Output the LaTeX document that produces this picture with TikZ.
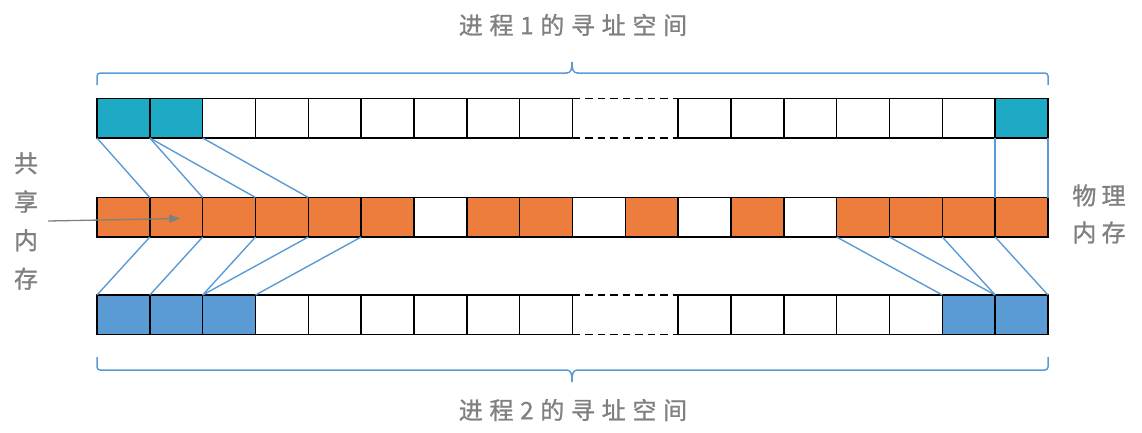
\documentclass[tikz,border=0pt]{standalone}
\usepackage{fontspec}
\newfontfamily\cjk[FakeBold=1]{Noto Sans CJK SC}
\newfontfamily\cjkls[LetterSpace=22,FakeBold=1]{Noto Sans CJK SC}
\newfontfamily\cjkwide[LetterSpace=28,FakeBold=1]{Noto Sans CJK SC}
\usetikzlibrary{arrows.meta,calc}
\definecolor{tealc}{HTML}{1EAAC5}
\definecolor{orangec}{HTML}{ED7D3D}
\definecolor{bluec}{HTML}{5B9BD5}
\definecolor{linec}{HTML}{5B9BD5}
\definecolor{grayc}{HTML}{808080}
\begin{document}
\begin{tikzpicture}[x=1pt,y=-1pt,
  cell/.style={draw=black, line width=1.6pt, minimum width=52.833pt, minimum height=39.5pt, inner sep=0pt, outer sep=0pt, anchor=north west},
  link/.style={draw=linec, line width=1.4pt},
  bracec/.style={draw=linec, line width=1.5pt, rounded corners=3pt},
  gapline/.style={draw=black, line width=1.6pt, dash pattern=on 7.5pt off 5pt},
  lbl/.style={text=grayc, inner sep=0pt}
]
\useasboundingbox (0,0) rectangle (1142,432);
\def\w{52.833}
% top row
\foreach \i/\c in {0/tealc,1/tealc,2/white,3/white,4/white,5/white,6/white,7/white,8/white,
                   11/white,12/white,13/white,14/white,15/white,16/white,17/tealc}
  \node[cell, fill=\c] (t\i) at ({97+\i*\w},98.5) {};
% middle row
\foreach \i/\c in {0/orangec,1/orangec,2/orangec,3/orangec,4/orangec,5/orangec,6/white,7/orangec,8/orangec,
                   9/white,10/orangec,11/white,12/orangec,13/white,14/orangec,15/orangec,16/orangec,17/orangec}
  \node[cell, fill=\c] (m\i) at ({97+\i*\w},197.5) {};
% bottom row
\foreach \i/\c in {0/bluec,1/bluec,2/bluec,3/white,4/white,5/white,6/white,7/white,8/white,
                   11/white,12/white,13/white,14/white,15/white,16/bluec,17/bluec}
  \node[cell, fill=\c] (b\i) at ({97+\i*\w},295) {};
% dashed gaps
\draw[gapline] (t8.north east) -- (t11.north west);
\draw[gapline] (t8.south east) -- (t11.south west);
\draw[gapline] (b8.north east) -- (b11.north west);
\draw[gapline] (b8.south east) -- (b11.south west);
% top to middle links
\draw[link] (t0.south west) -- (m1.north west);
\draw[link] (t0.south east) -- (m1.north east);
\draw[link] (t1.south west) -- (m3.north west);
\draw[link] (t1.south east) -- (m3.north east);
\draw[link] (t17.south west) -- (m17.north west);
\draw[link] (t17.south east) -- (m17.north east);
% middle to bottom links
\draw[link] (m1.south west) -- (b0.north west);
\draw[link] (m1.south east) -- (b0.north east);
\draw[link] (m2.south east) -- (b1.north east);
\draw[link] (m4.south west) -- (b2.north west);
\draw[link] (m4.south east) -- (b2.north east);
\draw[link] (m14.south west) -- (b16.north west);
\draw[link] (m14.south east) -- (b16.north east);
\draw[link] (m16.south west) -- (b17.north west);
\draw[link] (m16.south east) -- (b17.north east);
% braces
\draw[bracec] (97,85) -- (97,73) -- (567,73);
\draw[bracec] (1048,85) -- (1048,73) -- (577,73);
\draw[linec, line width=1.5pt] (566,73) .. controls (571,73) and (572,70) .. (572,62)
      .. controls (572,70) and (573,73) .. (578,73);
\draw[bracec] (97,357) -- (97,370) -- (567,370);
\draw[bracec] (1048,357) -- (1048,370) -- (577,370);
\draw[linec, line width=1.5pt] (566,370) .. controls (571,370) and (572,373) .. (572,382)
      .. controls (572,373) and (573,370) .. (578,370);
% labels
\node[lbl, font=\cjkwide\fontsize{24}{28}\selectfont] (p1) at (573,25) {进程1的寻址空间};
\node[lbl, font=\cjkwide\fontsize{24}{28}\selectfont] (p2) at (573,410) {进程2的寻址空间};
\node[lbl, align=center, font=\cjk\fontsize{24}{38.5}\selectfont] (share) at (26,221) {共\\享\\内\\存};
\node[lbl, align=center, font=\cjkls\fontsize{24}{37}\selectfont] (phys) at (1099,214) {物理\\内存};
% arrow
\coordinate (arrs) at (48,221);
\coordinate (arre) at ($(m1.center)+(4,1.25)$);
\draw[grayc, line width=1.3pt, -{Triangle[length=11pt,width=8pt]}] (arrs) -- (arre);
\end{tikzpicture}
\end{document}
